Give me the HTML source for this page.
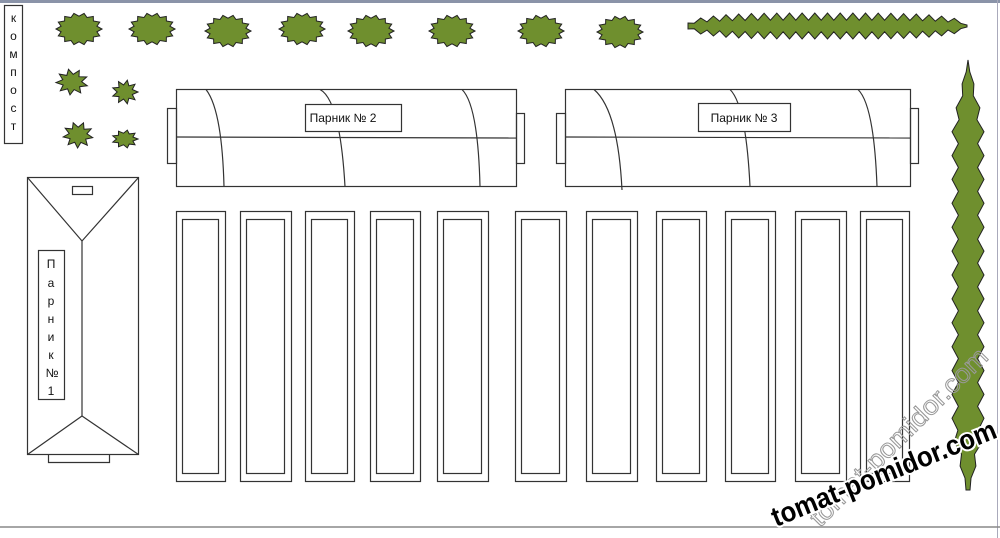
<!DOCTYPE html>
<html><head><meta charset="utf-8"><style>
html,body{margin:0;padding:0;background:#fff;width:1000px;height:538px;overflow:hidden}
svg{display:block}
text{font-family:"Liberation Sans","DejaVu Sans",sans-serif}
</style></head><body>
<svg id="s" width="1000" height="538" viewBox="0 0 1000 538" xmlns="http://www.w3.org/2000/svg">
<line x1="0" y1="1.5" x2="1000" y2="1.5" stroke="#8a93a8" stroke-width="3"/>
<line x1="997.5" y1="0" x2="997.5" y2="538" stroke="#aab" stroke-width="1"/>
<line x1="0" y1="527" x2="1000" y2="527" stroke="#888" stroke-width="1.5"/>
<g fill="none" stroke="#333" stroke-width="1.2">
<rect x="4.5" y="5.5" width="18" height="138" fill="#fff"/>
<rect x="27.5" y="177.5" width="111" height="277"/>
<polyline points="27.5,177.5 82,241 138.5,177.5"/>
<line x1="82" y1="241" x2="82" y2="416"/>
<polyline points="27.5,454.5 82,416 138.5,454.5"/>
<rect x="72.5" y="186.5" width="20" height="8"/>
<polyline points="48.5,454.5 48.5,462.5 109.5,462.5 109.5,454.5"/>
<rect x="38.5" y="250.5" width="26" height="149" fill="#fff"/>
<rect x="167.5" y="108.5" width="9" height="55"/>
<rect x="516.5" y="113.5" width="8" height="50"/>
<rect x="176.5" y="89.5" width="340" height="97"/>
<line x1="176.5" y1="137" x2="516.5" y2="138"/>
<path d="M206,89.5 Q222,110 224,186.5"/>
<path d="M320,89.5 Q340,100 345,186.5"/>
<path d="M462,89.5 Q478,105 480,186.5"/>
<rect x="305.5" y="104.5" width="96" height="27" fill="#fff"/>
<rect x="556.5" y="113.5" width="9" height="50"/>
<rect x="910.5" y="108.5" width="8" height="55"/>
<rect x="565.5" y="89.5" width="345" height="97"/>
<line x1="565.5" y1="137" x2="910.5" y2="138"/>
<path d="M594,89.5 Q618,110 622,190"/>
<path d="M730,89.5 Q746,105 750,186.5"/>
<path d="M858,89.5 Q874,105 877,186.5"/>
<rect x="698.5" y="103.5" width="92" height="28" fill="#fff"/>
</g>
<g id="beds" fill="none" stroke="#333" stroke-width="1.2"></g>
<g id="bushes" fill="#6f8f2e" stroke="#222" stroke-width="1"></g>
<g font-size="12" fill="#111" text-anchor="middle">
<text x="13.5" y="22">к</text><text x="13.5" y="40">о</text><text x="13.5" y="58">м</text><text x="13.5" y="76">п</text><text x="13.5" y="94">о</text><text x="13.5" y="112">с</text><text x="13.5" y="130">т</text>
<text x="51" y="268">П</text><text x="51" y="287">а</text><text x="51" y="305">р</text><text x="51" y="323">н</text><text x="51" y="341">и</text><text x="51" y="359">к</text><text x="52" y="377">№</text><text x="51" y="395">1</text>
<text x="343" y="122">Парник  № 2</text>
<text x="744" y="122">Парник № 3</text>
</g>
<text x="0" y="0" transform="translate(820,528) rotate(-45)" font-size="26" fill="none" stroke="#999" stroke-width="1" textLength="240" lengthAdjust="spacingAndGlyphs">tomat-pomidor.com</text>
<text x="0" y="0" transform="translate(776,527) rotate(-22)" font-size="28" font-weight="bold" fill="#000" stroke="#fff" stroke-width="4" paint-order="stroke" textLength="240" lengthAdjust="spacingAndGlyphs">tomat-pomidor.com</text>
</svg>
<script>
var NS="http://www.w3.org/2000/svg";
var beds=document.getElementById('beds');
[[176,225],[240,291],[305,354],[370,420],[437,488],[515,566],[586,637],[656,706],[725,775],[795,846],[860,909]].forEach(function(b){
 var r=document.createElementNS(NS,'rect');r.setAttribute('x',b[0]+.5);r.setAttribute('y',211.5);r.setAttribute('width',b[1]-b[0]);r.setAttribute('height',270);beds.appendChild(r);
 var q=document.createElementNS(NS,'rect');q.setAttribute('x',b[0]+6.5);q.setAttribute('y',219.5);q.setAttribute('width',b[1]-b[0]-13);q.setAttribute('height',254);beds.appendChild(q);
});
var g=document.getElementById('bushes');
function star(cx,cy,rx,ry,n,inner,rot){
 var p=[];for(var i=0;i<2*n;i++){var a=Math.PI*i/n+(rot||0);var k=i%2?inner:1;p.push((cx+Math.cos(a)*rx*k).toFixed(1)+','+(cy+Math.sin(a)*ry*k).toFixed(1));}
 var e=document.createElementNS(NS,'polygon');e.setAttribute('points',p.join(' '));g.appendChild(e);
}
[[79,29],[152,29],[228,31],[302,29],[371,31],[452,31],[541,31],[620,32]].forEach(function(c){star(c[0],c[1],23,16,14,0.8);});
star(72,82,16,13,9,0.6,0.3);star(125,92,13,12,9,0.6);star(78,135,15,13,9,0.6,0.2);star(125,139,13,9,9,0.65);
(function(){var p=[],cx=827,cy=26;var n=44;
 for(var i=0;i<=n;i++){var x=688+i*(279/n);var t=(x-cx)/140;var h=12*Math.sqrt(Math.max(0,1-t*t*t*t))+1;p.push(x.toFixed(1)+','+(cy-h*(i%2?0.45:1)).toFixed(1));}
 for(var i=n;i>=0;i--){var x=688+i*(279/n);var t=(x-cx)/140;var h=12*Math.sqrt(Math.max(0,1-t*t*t*t))+1;p.push(x.toFixed(1)+','+(cy+h*(i%2?0.45:1)).toFixed(1));}
 var e=document.createElementNS(NS,'polygon');e.setAttribute('points',p.join(' '));g.appendChild(e);})();
(function(){var p=[],cx=968;var n=36;
 function w(y){var t=(y-60)/430;var base=16;if(t<0.15)base=16*t/0.15;if(t>0.85)base=16*(1-t)/0.15+2;return base;}
 for(var i=0;i<=n;i++){var y=60+i*(430/n);p.push((cx+w(y)*(i%2?0.6:1)).toFixed(1)+','+y.toFixed(1));}
 for(var i=n;i>=0;i--){var y=60+i*(430/n);p.push((cx-w(y)*(i%2?0.6:1)).toFixed(1)+','+y.toFixed(1));}
 var e=document.createElementNS(NS,'polygon');e.setAttribute('points',p.join(' '));g.appendChild(e);})();
</script>
</body></html>
